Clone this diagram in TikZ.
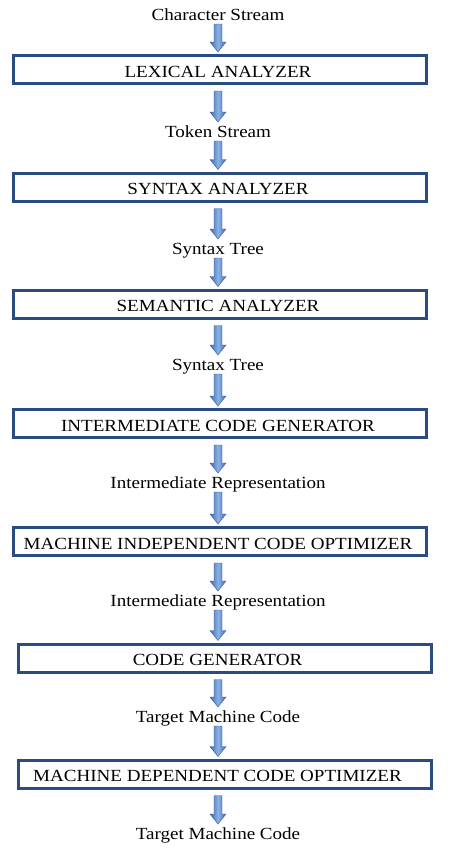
\documentclass[tikz,border=0pt]{standalone}
\usepackage{fontspec}
\setmainfont[FakeStretch=1.12]{Liberation Serif}
\usetikzlibrary{calc}
\definecolor{boxblue}{RGB}{42,76,128}
\definecolor{arrowlight}{RGB}{140,178,228}
\definecolor{arrowdark}{RGB}{62,108,178}
\definecolor{arrowedge}{RGB}{50,90,152}
\tikzset{
  box/.style={draw=boxblue, line width=3pt, minimum width=413pt, minimum height=28pt,
    inner sep=0pt, text height=15pt, text depth=0pt, font=\fontsize{17}{20}\selectfont},
  lbl/.style={inner sep=0pt, font=\fontsize{17}{20}\selectfont, anchor=base},
  arrowshade/.style={left color=arrowdark, right color=arrowdark, middle color=arrowlight,
    draw=arrowedge, line width=0.4pt}
}
\newcommand\barrow[2]{%
  \path[arrowshade] ([xshift=-4pt]#1) -- ([xshift=4pt]#1) -- ([xshift=4pt,yshift=10pt]#2)
    -- ([xshift=8pt,yshift=10pt]#2) -- (#2) -- ([xshift=-8pt,yshift=10pt]#2)
    -- ([xshift=-4pt,yshift=10pt]#2) -- cycle;}
\begin{document}
\begin{tikzpicture}[x=1pt,y=-1pt]
\useasboundingbox (0,0) rectangle (456,849);
% labels
\node[lbl] (l0) at (218,20) {Character Stream};
\node[lbl] (l1) at (218,137) {Token Stream};
\node[lbl] (l2) at (218,254) {Syntax Tree};
\node[lbl] (l3) at (218,370) {Syntax Tree};
\node[lbl] (l4) at (218,488) {Intermediate Representation};
\node[lbl] (l5) at (218,606) {Intermediate Representation};
\node[lbl] (l6) at (218,722) {Target Machine Code};
\node[lbl] (l7) at (218,839) {Target Machine Code};
% boxes
\node[box] (b1) at (220,69.5) {LEXICAL ANALYZER\hspace*{4pt}};
\node[box] (b2) at (220,187) {SYNTAX ANALYZER\hspace*{4pt}};
\node[box] (b3) at (220,304) {SEMANTIC ANALYZER\hspace*{4pt}};
\node[box] (b4) at (220,423.5) {INTERMEDIATE CODE GENERATOR\hspace*{4pt}};
\node[box] (b5) at (220,541.5) {MACHINE INDEPENDENT CODE OPTIMIZER\hspace*{4pt}};
\node[box] (b6) at (225,658) {CODE GENERATOR\hspace*{15pt}};
\node[box] (b7) at (225,774) {MACHINE DEPENDENT CODE OPTIMIZER\hspace*{15pt}};
% arrow end points
\coordinate (s0) at ($(l0.base)+(0,4)$);   \coordinate (e0) at ($(b1.north -| l0.base)+(0,-2)$);
\coordinate (s1) at ($(b1.south -| l0.base)+(0,6)$); \coordinate (e1) at ($(l1.base)+(0,-15)$);
\coordinate (s2) at ($(l1.base)+(0,4)$);   \coordinate (e2) at ($(b2.north -| l1.base)+(0,-2)$);
\coordinate (s3) at ($(b2.south -| l1.base)+(0,6)$); \coordinate (e3) at ($(l2.base)+(0,-15)$);
\coordinate (s4) at ($(l2.base)+(0,4)$);   \coordinate (e4) at ($(b3.north -| l2.base)+(0,-2)$);
\coordinate (s5) at ($(b3.south -| l2.base)+(0,6)$); \coordinate (e5) at ($(l3.base)+(0,-15)$);
\coordinate (s6) at ($(l3.base)+(0,4)$);   \coordinate (e6) at ($(b4.north -| l3.base)+(0,-2)$);
\coordinate (s7) at ($(b4.south -| l3.base)+(0,6)$); \coordinate (e7) at ($(l4.base)+(0,-15)$);
\coordinate (s8) at ($(l4.base)+(0,4)$);   \coordinate (e8) at ($(b5.north -| l4.base)+(0,-2)$);
\coordinate (s9) at ($(b5.south -| l4.base)+(0,6)$); \coordinate (e9) at ($(l5.base)+(0,-15)$);
\coordinate (s10) at ($(l5.base)+(0,4)$);  \coordinate (e10) at ($(b6.north -| l5.base)+(0,-2)$);
\coordinate (s11) at ($(b6.south -| l5.base)+(0,6)$); \coordinate (e11) at ($(l6.base)+(0,-15)$);
\coordinate (s12) at ($(l6.base)+(0,4)$);  \coordinate (e12) at ($(b7.north -| l6.base)+(0,-2)$);
\coordinate (s13) at ($(b7.south -| l6.base)+(0,6)$); \coordinate (e13) at ($(l7.base)+(0,-15)$);
\foreach \i in {0,...,13} {\barrow{s\i}{e\i}}
\end{tikzpicture}
\end{document}
